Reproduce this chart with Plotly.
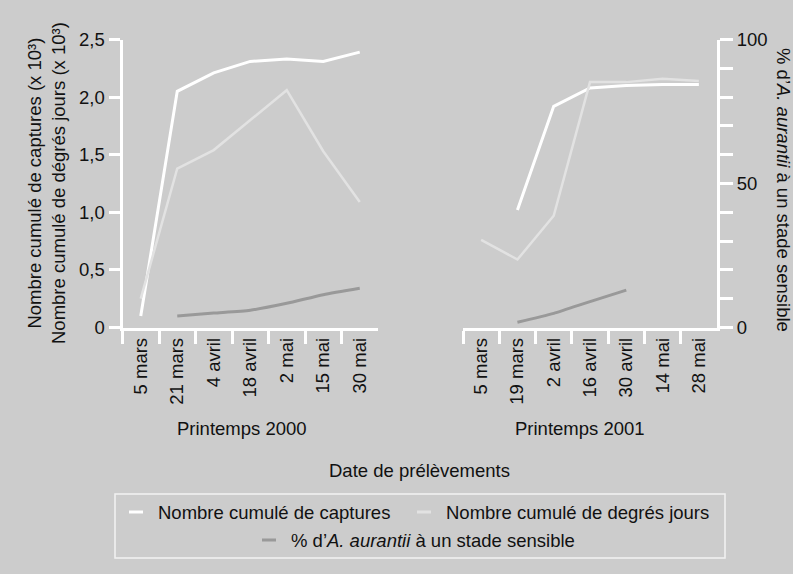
import plotly.graph_objects as go

# ---- data ----
dates_2000 = ["5 mars", "21 mars", "4 avril", "18 avril", "2 mai", "15 mai", "30 mai"]
dates_2001 = ["5 mars", "19 mars", "2 avril", "16 avril", "30 avril", "14 mai", "28 mai"]

captures_2000 = [0.10, 2.05, 2.21, 2.31, 2.33, 2.31, 2.39]
degres_2000 = [0.25, 1.38, 1.54, 1.80, 2.06, 1.53, 1.09]
pct_2000 = [None, 4.0, 5.0, 6.0, 8.4, 11.4, 13.6]

captures_2001 = [None, 1.02, 1.92, 2.08, 2.10, 2.11, 2.11]
degres_2001 = [0.76, 0.59, 0.97, 2.13, 2.13, 2.16, 2.14]
pct_2001 = [None, 1.8, 4.9, 9.0, 13.0, None, None]

y_ticks_left = [0, 0.5, 1.0, 1.5, 2.0, 2.5]
y_ticktext_left = ["0", "0,5", "1,0", "1,5", "2,0", "2,5"]
y_ticks_right = [0, 10, 20, 30, 40, 50, 60, 70, 80, 90, 100]
y_ticktext_right = ["0", "", "", "", "", "50", "", "", "", "", "100"]

# ---- style ----
BG = "#cccccc"
WHITE = "#ffffff"
LIGHT = "#e2e2e2"
DARK = "#999999"
TXT = "#111111"
FONT = "Liberation Sans, Arial, sans-serif"
FS = 18.5

W, H = 793, 574
def px(x):
    return x / W
def py(y):
    return 1 - y / H

fig = go.Figure()

# panel 2000
fig.add_trace(go.Scatter(x=dates_2000, y=captures_2000, mode="lines", xaxis="x", yaxis="y",
                         line=dict(color=WHITE, width=3), showlegend=False))
fig.add_trace(go.Scatter(x=dates_2000, y=degres_2000, mode="lines", xaxis="x", yaxis="y",
                         line=dict(color=LIGHT, width=2.5), showlegend=False))
fig.add_trace(go.Scatter(x=dates_2000, y=pct_2000, mode="lines", xaxis="x", yaxis="y4",
                         line=dict(color=DARK, width=3, shape="spline", smoothing=0.6),
                         showlegend=False))
# panel 2001
fig.add_trace(go.Scatter(x=dates_2001, y=captures_2001, mode="lines", xaxis="x2", yaxis="y2",
                         line=dict(color=WHITE, width=3), showlegend=False))
fig.add_trace(go.Scatter(x=dates_2001, y=degres_2001, mode="lines", xaxis="x2", yaxis="y2",
                         line=dict(color=LIGHT, width=2.5), showlegend=False))
fig.add_trace(go.Scatter(x=dates_2001, y=pct_2001, mode="lines", xaxis="x2", yaxis="y3",
                         line=dict(color=DARK, width=3, shape="spline", smoothing=0.6),
                         showlegend=False))

ydom = [py(327.5), py(39.5)]
xdom1 = [px(122.5), px(378)]
xdom2 = [px(463), px(717)]

xcommon = dict(type="category", tickson="boundaries", ticks="outside", ticklen=13,
               tickwidth=3, tickcolor=WHITE, showline=True, linecolor=WHITE, linewidth=3,
               showgrid=False, zeroline=False, tickangle=-90, range=[-0.5, 6.5],
               automargin=False,
               tickfont=dict(family=FONT, size=FS, color=TXT), fixedrange=True)

fig.update_layout(
    template="none",
    width=W, height=H,
    paper_bgcolor=BG, plot_bgcolor=BG,
    showlegend=False,
    margin=dict(l=0, r=0, t=0, b=0, pad=0, autoexpand=False),
    xaxis=dict(domain=xdom1, anchor="y", categoryorder="array", categoryarray=dates_2000, **xcommon),
    xaxis2=dict(domain=xdom2, anchor="y2", categoryorder="array", categoryarray=dates_2001, **xcommon),
    yaxis=dict(domain=ydom, anchor="x", range=[0, 2.5], tickvals=y_ticks_left,
               ticktext=y_ticktext_left, ticks="outside", ticklen=11, tickwidth=3,
               tickcolor=WHITE, showline=True, linecolor=WHITE, linewidth=3,
               showgrid=False, zeroline=False, automargin=False,
               tickfont=dict(family=FONT, size=FS, color=TXT)),
    yaxis4=dict(overlaying="y", anchor="x", range=[0, 100], visible=False, automargin=False),
    yaxis2=dict(domain=ydom, anchor="x2", range=[0, 2.5], visible=False, automargin=False),
    yaxis3=dict(overlaying="y2", anchor="x2", side="right", range=[0, 100],
                tickvals=y_ticks_right, ticktext=y_ticktext_right, ticks="outside",
                ticklen=13, tickwidth=3, tickcolor=WHITE, showline=True, linecolor=WHITE,
                linewidth=3, showgrid=False, zeroline=False, automargin=False,
                tickfont=dict(family=FONT, size=FS, color=TXT)),
    font=dict(family=FONT, size=FS, color=TXT),
)

ann = []
# axis titles
ann.append(dict(text="Nombre cumulé de captures (x 10³)<br>Nombre cumulé de dégrés jours (x 10³)",
                x=px(47), y=py(183), xref="paper", yref="paper", textangle=-90,
                showarrow=False, xanchor="center", yanchor="middle",
                font=dict(family=FONT, size=FS, color=TXT)))
ann.append(dict(text="% d’<i>A. aurantii</i> à un stade sensible",
                x=px(783), y=py(190), xref="paper", yref="paper", textangle=90,
                showarrow=False, xanchor="center", yanchor="middle",
                font=dict(family=FONT, size=FS, color=TXT)))
ann.append(dict(text="Printemps 2000", x=px(242), y=py(428), xref="paper", yref="paper",
                showarrow=False, xanchor="center", yanchor="middle"))
ann.append(dict(text="Printemps 2001", x=px(580), y=py(428), xref="paper", yref="paper",
                showarrow=False, xanchor="center", yanchor="middle"))
ann.append(dict(text="Date de prélèvements", x=px(420), y=py(470), xref="paper", yref="paper",
                showarrow=False, xanchor="center", yanchor="middle"))

# legend (drawn)
legend_items = [
    ("Nombre cumulé de captures", WHITE, 129, 512),
    ("Nombre cumulé de degrés jours", LIGHT, 417, 512),
    ("% d’<i>A. aurantii</i> à un stade sensible", DARK, 262, 540),
]
shapes = [dict(type="rect", xref="paper", yref="paper", x0=px(115), x1=px(725),
               y0=py(558), y1=py(494), line=dict(color="#f2f2f2", width=1.5), fillcolor=BG)]
for label, col, x0, yc in legend_items:
    shapes.append(dict(type="line", xref="paper", yref="paper", x0=px(x0), x1=px(x0 + 14),
                       y0=py(yc), y1=py(yc), line=dict(color=col, width=3)))
    ann.append(dict(text=label, x=px(x0 + 27), y=py(yc), xref="paper", yref="paper",
                    showarrow=False, xanchor="left", yanchor="middle",
                    font=dict(family=FONT, size=FS, color=TXT)))

fig.update_layout(annotations=ann, shapes=shapes)
fig.write_html(
    "out.html",
    config={"displayModeBar": False},
    post_script="document.body.style.margin='0';document.body.style.padding='0';"
                "document.documentElement.style.overflow='hidden';document.body.style.overflow='hidden';",
)
